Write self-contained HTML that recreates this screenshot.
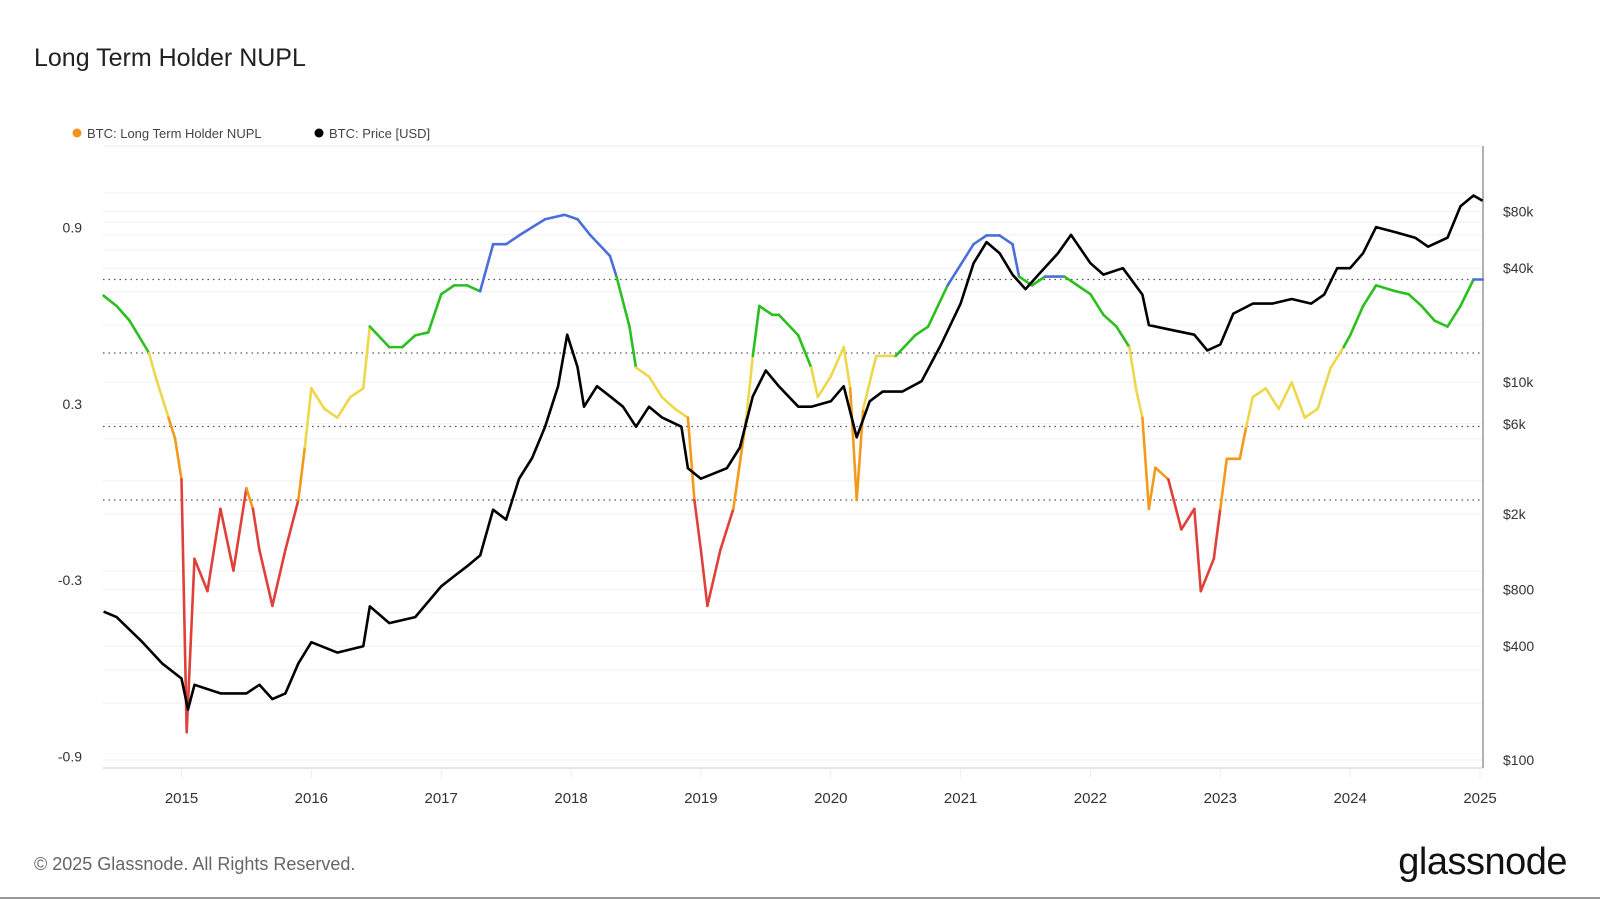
<!DOCTYPE html>
<html><head><meta charset="utf-8"><style>
body{margin:0;background:#fff;font-family:"Liberation Sans",sans-serif;}
#wrap{position:relative;width:1600px;height:900px;overflow:hidden;background:#fff;}
text{font-family:"Liberation Sans",sans-serif;}
</style></head><body>
<div id="wrap">
<svg id="chart" width="1600" height="900">
<text x="34" y="66" font-size="25" fill="#222">Long Term Holder NUPL</text>
<g>
<circle cx="77" cy="133" r="4.5" fill="#f7931a"/>
<text x="87" y="138" font-size="13" fill="#444">BTC: Long Term Holder NUPL</text>
<circle cx="319" cy="133" r="4.5" fill="#000"/>
<text x="329" y="138" font-size="13" fill="#444">BTC: Price [USD]</text>
</g>
<g id="grid"></g>
<g id="axes"></g>
<g id="series"></g>
<text x="34" y="870" font-size="18" fill="#666">© 2025 Glassnode. All Rights Reserved.</text>
<text x="1567" y="874" font-size="38" fill="#111" text-anchor="end" letter-spacing="-0.5">glassnode</text>
<line x1="0" y1="898" x2="1600" y2="898" stroke="#999" stroke-width="2"/>
</svg>
</div>
<script>
const nuplT=[2014.4,2014.5,2014.6,2014.75,2014.8,2014.9,2014.95,2015.0,2015.04,2015.1,2015.2,2015.3,2015.4,2015.5,2015.55,2015.6,2015.7,2015.8,2015.9,2015.95,2016.0,2016.1,2016.2,2016.3,2016.4,2016.45,2016.6,2016.7,2016.8,2016.9,2017.0,2017.1,2017.2,2017.3,2017.4,2017.5,2017.6,2017.8,2017.95,2018.05,2018.15,2018.3,2018.35,2018.45,2018.5,2018.6,2018.7,2018.8,2018.9,2018.95,2019.0,2019.05,2019.15,2019.25,2019.35,2019.4,2019.45,2019.55,2019.6,2019.75,2019.85,2019.9,2020.0,2020.1,2020.15,2020.2,2020.25,2020.35,2020.5,2020.65,2020.75,2020.9,2021.0,2021.1,2021.2,2021.3,2021.4,2021.45,2021.55,2021.65,2021.8,2021.9,2022.0,2022.1,2022.2,2022.3,2022.35,2022.4,2022.45,2022.5,2022.6,2022.7,2022.8,2022.85,2022.95,2023.0,2023.05,2023.15,2023.2,2023.25,2023.35,2023.45,2023.55,2023.65,2023.75,2023.85,2023.95,2024.0,2024.1,2024.2,2024.35,2024.45,2024.55,2024.65,2024.75,2024.85,2024.95,2025.02];
const nuplV=[0.695,0.66,0.61,0.5,0.42,0.28,0.21,0.07,-0.79,-0.2,-0.31,-0.03,-0.24,0.04,-0.03,-0.17,-0.36,-0.17,0,0.18,0.38,0.31,0.28,0.35,0.38,0.59,0.52,0.52,0.56,0.57,0.7,0.73,0.73,0.71,0.87,0.87,0.9,0.955,0.97,0.955,0.9,0.83,0.76,0.59,0.45,0.42,0.35,0.31,0.28,0,-0.17,-0.36,-0.17,-0.03,0.28,0.49,0.66,0.63,0.63,0.56,0.45,0.35,0.42,0.52,0.38,0,0.31,0.49,0.49,0.56,0.59,0.73,0.8,0.87,0.9,0.9,0.87,0.76,0.73,0.76,0.76,0.73,0.7,0.63,0.59,0.52,0.38,0.28,-0.03,0.11,0.07,-0.1,-0.03,-0.31,-0.2,-0.03,0.14,0.14,0.25,0.35,0.38,0.31,0.4,0.28,0.31,0.45,0.52,0.56,0.66,0.73,0.71,0.7,0.66,0.61,0.59,0.66,0.75,0.75];
const priceT=[2014.4,2014.5,2014.7,2014.85,2015.0,2015.05,2015.1,2015.3,2015.5,2015.6,2015.7,2015.8,2015.9,2016.0,2016.2,2016.4,2016.45,2016.6,2016.8,2017.0,2017.1,2017.2,2017.3,2017.4,2017.5,2017.6,2017.7,2017.8,2017.9,2017.97,2018.05,2018.1,2018.2,2018.3,2018.4,2018.5,2018.6,2018.7,2018.85,2018.9,2019.0,2019.2,2019.3,2019.4,2019.5,2019.6,2019.75,2019.85,2020.0,2020.1,2020.2,2020.3,2020.4,2020.55,2020.7,2020.85,2021.0,2021.1,2021.2,2021.3,2021.4,2021.5,2021.6,2021.75,2021.85,2022.0,2022.1,2022.25,2022.4,2022.45,2022.6,2022.8,2022.9,2023.0,2023.1,2023.25,2023.4,2023.55,2023.7,2023.8,2023.9,2024.0,2024.1,2024.2,2024.35,2024.5,2024.6,2024.75,2024.85,2024.95,2025.02];
const priceV=[610,570,420,325,270,185,250,225,225,250,210,225,325,420,370,400,650,530,570,830,940,1060,1210,2110,1870,3080,3960,5800,9500,17800,12000,7400,9500,8400,7400,5800,7400,6500,5800,3500,3080,3500,4500,8400,11500,9500,7400,7400,7900,9500,5100,7900,8900,8900,10100,15800,26000,42500,55000,48000,37000,31000,37000,48000,60000,42500,37000,40000,29000,20000,19000,17800,14700,15800,23000,26000,26000,27500,26000,29000,40000,40000,48000,66000,62000,58000,52000,58000,85000,97000,91000];
const nuplTicks=[0.9,0.3,-0.3,-0.9];
const nuplThresh=[0.75,0.5,0.25,0];
const priceTicks=[80000,40000,10000,6000,2000,800,400,100];
const priceTickLabels=["$80k","$40k","$10k","$6k","$2k","$800","$400","$100"];
const yearTicks=[2015,2016,2017,2018,2019,2020,2021,2022,2023,2024,2025];
const gridPrices=[100000,70000,60000,50000,30000,20000,5000,3000,1000,600,300,200];

const NS="http://www.w3.org/2000/svg";
const X0=103,X1=1483,YT=146,YB=768;
const xs=t=>181.5+(t-2015)*129.85;
const yn=v=>500-294*v;
const yp=p=>760-(Math.log10(p)-2)*189;
function mk(tag,attrs,parent){const e=document.createElementNS(NS,tag);for(const k in attrs)e.setAttribute(k,attrs[k]);parent.appendChild(e);return e;}
const grid=document.getElementById('grid'),axes=document.getElementById('axes'),series=document.getElementById('series');
gridPrices.concat(priceTicks).forEach(p=>{const l=mk('line',{x1:X0,x2:X1,y1:yp(p),y2:yp(p),stroke:'#f0f0f0','stroke-width':1},grid);

});
mk('line',{x1:X0,x2:X1,y1:YT,y2:YT,stroke:'#eee'},grid);
nuplThresh.forEach(v=>{const l=mk('line',{x1:X0,x2:X1,y1:yn(v),y2:yn(v),stroke:'#555','stroke-width':1.2,'stroke-dasharray':'1.5 4'},grid);

});
const ax=mk('line',{x1:X0,x2:X1,y1:YB,y2:YB,stroke:'#ddd','stroke-width':1.5},axes);


const ay=mk('line',{x1:X1,x2:X1,y1:YT,y2:YB,stroke:'#999','stroke-width':1.5},axes);


nuplTicks.forEach(v=>{const t=mk('text',{x:82,y:yn(v)-3,'font-size':14,fill:'#333','text-anchor':'end'},axes);t.textContent=String(v);

});
priceTicks.forEach((p,i)=>{const t=mk('text',{x:1503,y:yp(p)+5,'font-size':14,fill:'#333'},axes);t.textContent=priceTickLabels[i];

});
yearTicks.forEach(y=>{const x=xs(y);mk('line',{x1:x,x2:x,y1:YB,y2:YB+10,stroke:'#eee'},axes);
const t=mk('text',{x:x,y:803,'font-size':15,fill:'#333','text-anchor':'middle'},axes);t.textContent=String(y);

});
function col(v){return v>=0.75?'#4a6fdc':v>=0.5?'#2bbf1f':v>=0.25?'#ecd84a':v>=0?'#f29a1a':'#e0403a';}
for(let i=0;i<nuplT.length-1;i++){
 const m=(nuplV[i]+nuplV[i+1])/2;
 const s=mk('line',{x1:xs(nuplT[i]),y1:yn(nuplV[i]),x2:xs(nuplT[i+1]),y2:yn(nuplV[i+1]),stroke:col(m),'stroke-width':2.6,'stroke-linecap':'round'},series);
 
 
}
const d=priceT.map((t,i)=>(i?'L':'M')+xs(t).toFixed(1)+','+yp(priceV[i]).toFixed(1)).join('');
const pl=mk('path',{d:d,fill:'none',stroke:'#000','stroke-width':2.6,'stroke-linejoin':'round'},series);


</script>
</body></html>
